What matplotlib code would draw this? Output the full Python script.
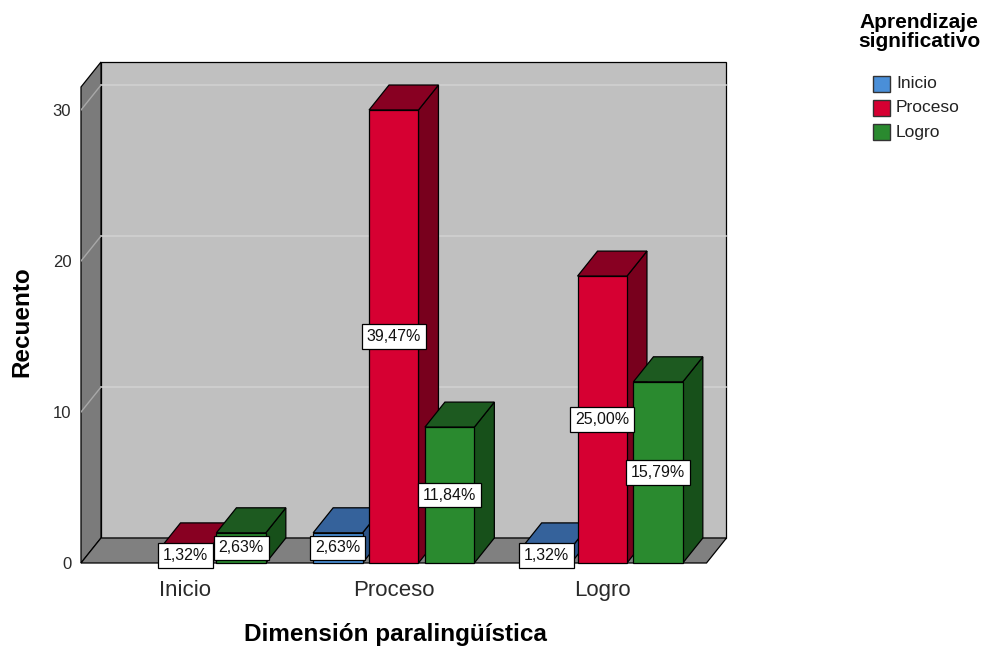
import matplotlib
matplotlib.use("Agg")
import matplotlib.pyplot as plt
from matplotlib.patches import Polygon, Rectangle

# data: counts per group (x axis) for each series (legend)
groups = ["Inicio", "Proceso", "Logro"]
series = ["Inicio", "Proceso", "Logro"]
cnt_inicio = [0, 2, 1]
cnt_proceso = [1, 30, 19]
cnt_logro = [2, 9, 12]
yticks = [0, 10, 20, 30]

front_cols = ["#4a8fd8", "#d60032", "#2a8a2f"]
top_cols = ["#35629b", "#880022", "#1d5a20"]
side_cols = ["#2c5488", "#78001d", "#17501a"]

plt.rcParams["font.family"] = ["Liberation Sans", "DejaVu Sans"]

W, H = 993, 649
fig = plt.figure(figsize=(W / 100, H / 100), dpi=100)

# axes placed in pixels: front plane x from -0.5..2.5, depth goes up/right
px_left, px_right, px_bottom, px_top = 81, 727, 563, 62
ax = fig.add_axes([px_left / W, 1 - px_bottom / H,
                   (px_right - px_left) / W, (px_bottom - px_top) / H])
ppx = 208.5   # pixels per category
ppy = 15.1    # pixels per count
ax.set_xlim(-0.5, -0.5 + (px_right - px_left) / ppx)
ax.set_ylim(0, (px_bottom - px_top) / ppy)
ytop = ax.get_ylim()[1]
dx = 20 / ppx
dy = 25 / ppy
x0, x1 = -0.5, 2.5

def poly(pts, fc, z, lw=0.9):
    ax.add_patch(Polygon(pts, closed=True, facecolor=fc, edgecolor="black",
                         linewidth=lw, zorder=z, clip_on=False))

# walls and floor
poly([(x0 + dx, dy), (x1 + dx, dy), (x1 + dx, ytop), (x0 + dx, ytop)], "#c0c0c0", 1)
poly([(x0, 0), (x0, ytop - dy), (x0 + dx, ytop), (x0 + dx, dy)], "#7b7b7b", 1)
poly([(x0, 0), (x1, 0), (x1 + dx, dy), (x0 + dx, dy)], "#808080", 1)
for v in yticks[1:]:
    ax.plot([x0 + dx, x1 + dx], [v + dy, v + dy], color="#d0d0d0", lw=1.2, zorder=2)
    ax.plot([x0, x0 + dx], [v, v + dy], color="#a8a8a8", lw=1, zorder=2)

# bars
total = sum(cnt_inicio) + sum(cnt_proceso) + sum(cnt_logro)
bw = 0.237
step = 0.268
z = 3
for g in range(len(groups)):
    for s, vals in enumerate([cnt_inicio, cnt_proceso, cnt_logro]):
        v = vals[g]
        if v <= 0:
            continue
        xl = g + (s - 1) * step - bw / 2
        xr = xl + bw
        poly([(xr, 0), (xr + dx, dy), (xr + dx, v + dy), (xr, v)], side_cols[s], z)
        poly([(xl, v), (xr, v), (xr + dx, v + dy), (xl + dx, v + dy)], top_cols[s], z)
        ax.add_patch(Rectangle((xl, 0), bw, v, facecolor=front_cols[s],
                               edgecolor="black", linewidth=0.9, zorder=z,
                               clip_on=False))
        z += 1

# percentage labels on top of everything
for g in range(len(groups)):
    for s, vals in enumerate([cnt_inicio, cnt_proceso, cnt_logro]):
        v = vals[g]
        if v <= 0:
            continue
        txt = ("%.2f" % (100.0 * v / total)).replace(".", ",") + "%"
        ax.text(g + (s - 1) * step, v / 2, txt, ha="center", va="center",
                fontsize=11.5, zorder=50, color="#111111",
                bbox=dict(boxstyle="square,pad=0.3", fc="white", ec="black", lw=0.9))

for sp in ax.spines.values():
    sp.set_visible(False)
ax.patch.set_visible(False)
ax.set_xticks(range(len(groups)))
ax.set_xticklabels(groups, fontsize=16, color="#2a2a2a")
ax.set_yticks(yticks)
ax.set_yticklabels([str(t) for t in yticks], fontsize=12, color="#2a2a2a")
ax.tick_params(axis="both", length=0)
ax.tick_params(axis="x", pad=12)
ax.tick_params(axis="y", pad=7)

fig.text(395 / W, 1 - 635 / H, "Dimensión paralingüística", ha="center",
         va="center", fontsize=17.5, fontweight="bold")
fig.text(22 / W, 1 - 322 / H, "Recuento", ha="center", va="center",
         rotation=90, fontsize=17.5, fontweight="bold")

# legend
fig.text(919 / W, 1 - 32 / H, "Aprendizaje\nsignificativo", ha="center",
         va="center", fontsize=15, fontweight="bold", linespacing=1.0)
for s, name in enumerate(series):
    yc = 84 + s * 24
    fig.patches.append(Rectangle((873 / W, 1 - (yc + 8) / H), 17 / W, 16 / H,
                                 transform=fig.transFigure, facecolor=front_cols[s],
                                 edgecolor="#333333", linewidth=1))
    fig.text(896 / W, 1 - yc / H, name, ha="left", va="center", fontsize=12.5,
             color="#222222")

fig.savefig("out.png", dpi=100, facecolor="white")
